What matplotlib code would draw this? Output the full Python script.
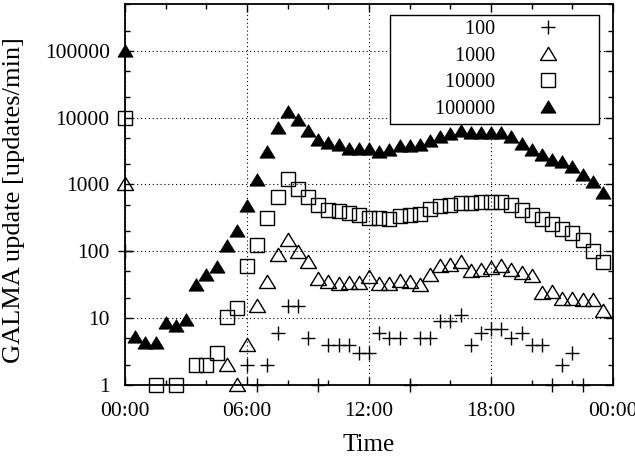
import numpy as np
import matplotlib
matplotlib.use("Agg")
import matplotlib.pyplot as plt
from matplotlib.path import Path
from matplotlib.ticker import FixedLocator, LogLocator, NullFormatter, FixedFormatter

plt.rcParams['font.family'] = ['Liberation Serif', 'DejaVu Serif']

nan = np.nan
# 30-minute bins over one day (hours)
time_hours = np.arange(48) * 0.5

series_labels = ["100", "1000", "10000", "100000"]

rate_100 = [100, nan, nan, nan, nan, nan, nan, nan, nan, nan, nan, nan,
            2, 1, 2, 6, 15, 15, 5, 1, 4, 4, 4, 3,
            3, 6, 5, 5, 1, 5, 5, 9, 9, 11, 4, 6,
            7, 7, 5, 6, 4, 4, 1, 2, 3, 1, nan, nan]

rate_1000 = [1000, nan, nan, nan, nan, nan, nan, nan, nan, nan, 2, 1,
             4, 15, 35, 88, 146, 97, 68, 39, 35, 32, 33, 33,
             41, 32, 32, 36, 35, 31, 44, 60, 62, 70, 50, 53,
             56, 61, 53, 47, 43, 24, 25, 19.5, 19.5, 19, 19, 12.8]

rate_10000 = [10000, nan, nan, 1, nan, 1, nan, 2, 2, 3, 10.3, 14,
              60, 125, 320, 660, 1200, 850, 640, 500, 420, 400, 370, 350,
              320, 310, 300, 340, 355, 360, 430, 475, 490, 520, 520, 550,
              550, 550, 490, 415, 350, 300, 255, 215, 185, 150, 100, 68]

rate_100000 = [100000, 5.3, 4.2, 4.2, 8.4, 7.5, 9.4, 31, 44, 58, 120, 204,
               480, 1170, 3100, 6900, 12300, 9300, 6200, 4700, 4200, 3900, 3400, 3400,
               3400, 3100, 3300, 3700, 3700, 3950, 4500, 5100, 5600, 6200, 5800, 5800,
               5800, 5800, 5200, 4000, 3300, 2800, 2300, 2150, 1800, 1400, 1070, 740]

x_ticks = [0, 6, 12, 18, 24]
x_ticklabels = ["00:00", "06:00", "12:00", "18:00", "00:00"]
y_ticks = [1, 10, 100, 1000, 10000, 100000]
y_ticklabels = ["1", "10", "100", "1000", "10000", "100000"]

fig = plt.figure(figsize=(6.35, 4.66), dpi=100)
ax = fig.add_axes([125/635, 1-385/466, 488/635, 381/466])

tri = Path([(0, 0.9), (-1, -0.75), (1, -0.75), (0, 0.9)], closed=True)

ax.plot(time_hours, rate_100, ls='none', marker='+', ms=10.5, mew=1.0, color='black',
        clip_on=False, label=series_labels[0], zorder=3)
ax.plot(time_hours, rate_1000, ls='none', marker=tri, ms=11.5, mew=1.0, mfc='none', mec='black',
        clip_on=False, label=series_labels[1], zorder=3)
ax.plot(time_hours, rate_10000, ls='none', marker='s', ms=10.5, mew=1.0, mfc='none', mec='black',
        clip_on=False, label=series_labels[2], zorder=3)
ax.plot(time_hours, rate_100000, ls='none', marker=tri, ms=10.8, mew=0.6, mfc='black', mec='black',
        clip_on=False, label=series_labels[3], zorder=3)

ax.set_yscale('log')
ax.set_xlim(0, 24)
ax.set_ylim(1, 5e5)

ax.xaxis.set_major_locator(FixedLocator(x_ticks))
ax.xaxis.set_major_formatter(FixedFormatter(x_ticklabels))
ax.xaxis.set_minor_locator(FixedLocator([2, 4, 8, 10, 14, 16, 20, 22]))
ax.yaxis.set_major_locator(FixedLocator(y_ticks))
ax.yaxis.set_major_formatter(FixedFormatter(y_ticklabels))
ax.yaxis.set_minor_locator(LogLocator(base=10, subs=[2, 5]))
ax.yaxis.set_minor_formatter(NullFormatter())

ax.tick_params(which='both', direction='in', top=True, right=True, width=1.0, colors='black')
ax.tick_params(which='major', length=6, labelsize=15.5)
ax.tick_params(which='minor', length=3.5)
ax.tick_params(axis='y', which='major', pad=11)
ax.tick_params(axis='x', which='major', pad=12)

ax.grid(which='major', ls=(0, (1, 2.5)), color='black', lw=0.8)
ax.set_axisbelow(True)
for s in ax.spines.values():
    s.set_linewidth(1.3)

ax.set_xlabel("Time", fontsize=18)
ax.xaxis.set_label_coords(0.5, -0.128)
ax.set_ylabel("GALMA update [updates/min]", fontsize=19)
ax.yaxis.set_label_coords(-0.205, 0.4856)

handles, labels = ax.get_legend_handles_labels()
pad = " " * 8
leg = ax.legend(handles, [pad + l for l in labels], loc='upper right',
                bbox_to_anchor=(0.9713, 0.9711), borderaxespad=0, markerfirst=False,
                handlelength=4.6, handletextpad=0.3, borderpad=0.25, labelspacing=0.37,
                fontsize=14.5, frameon=True, fancybox=False, framealpha=1)
leg.get_frame().set_edgecolor('black')
leg.get_frame().set_linewidth(1.0)

fig.savefig("out.png", dpi=100)
